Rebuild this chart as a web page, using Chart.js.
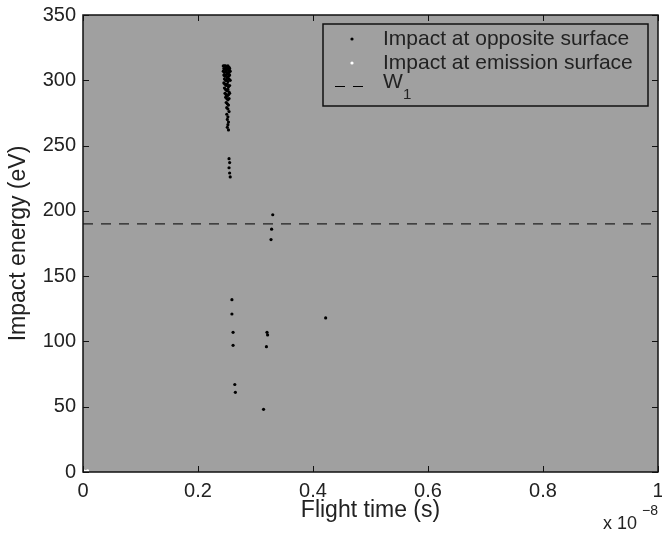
<!DOCTYPE html>
<html>
<head>
<meta charset="utf-8">
<script src="https://cdn.jsdelivr.net/npm/chart.js@4.4.1/dist/chart.umd.min.js"></script>
<style>
  html, body { margin: 0; padding: 0; background: #fff; }
</style>
</head>
<body>
<canvas id="impactChart" width="662" height="533"></canvas>
<script>
// flight time in units of 1e-8 s, energy in eV
var oppositeTime = [
  0.244, 0.246, 0.248, 0.250, 0.252, 0.254,
  0.245, 0.247, 0.249, 0.251, 0.253, 0.255,
  0.244, 0.246, 0.248, 0.250, 0.252, 0.254, 0.256,
  0.245, 0.247, 0.249, 0.251, 0.253, 0.255,
  0.246, 0.248, 0.250, 0.252, 0.254, 0.256,
  0.245, 0.247, 0.249, 0.251, 0.253, 0.255,
  0.246, 0.248, 0.250, 0.252, 0.254,
  0.247, 0.249, 0.251, 0.253, 0.255,
  0.248, 0.250, 0.252, 0.254,
  0.249, 0.251, 0.253,
  0.250, 0.252, 0.254,
  0.250, 0.252,
  0.251, 0.253,
  0.252, 0.251, 0.253,
  0.254, 0.255, 0.254, 0.255, 0.256,
  0.259, 0.259, 0.261, 0.261, 0.264, 0.265,
  0.314, 0.320, 0.321, 0.319,
  0.330, 0.328, 0.327,
  0.422
];
var oppositeEnergy = [
  311, 311, 311, 310, 311, 310,
  309, 309, 308, 309, 308, 309,
  307, 306, 307, 306, 305, 306, 307,
  304, 303, 304, 302, 303, 304,
  301, 300, 300, 299, 301, 300,
  298, 297, 296, 297, 295, 296,
  294, 293, 292, 293, 291,
  290, 289, 288, 289, 290,
  287, 286, 285, 286,
  283, 282, 281,
  279, 278, 276,
  274, 272,
  270, 268,
  266, 264, 262,
  240, 237, 233, 229, 226,
  132, 121, 107, 97, 67, 61,
  48, 107, 105, 96,
  197, 186, 178,
  118
];
var emissionTime = [0.002, 0.005, 0.008];
var emissionEnergy = [0.6, 0.4, 0.8];
var w1Level = 190;
var xTicks = [0, 0.2, 0.4, 0.6, 0.8, 1];
var yTicks = [0, 50, 100, 150, 200, 250, 300, 350];

function toPoints(xs, ys) {
  return xs.map(function (x, i) { return { x: x, y: ys[i] }; });
}

var fontFamily = '"Liberation Sans", Arial, sans-serif';

var framePlugin = {
  id: 'frame',
  beforeDraw: function (chart) {
    var ctx = chart.ctx, a = chart.chartArea;
    ctx.save();
    ctx.fillStyle = '#fff';
    ctx.fillRect(0, 0, chart.width, chart.height);
    ctx.fillStyle = '#a0a0a0';
    ctx.fillRect(a.left, a.top, a.right - a.left, a.bottom - a.top);
    ctx.restore();
  },
  afterDraw: function (chart) {
    var ctx = chart.ctx, a = chart.chartArea;
    var xs = chart.scales.x, ys = chart.scales.y;
    ctx.save();
    ctx.strokeStyle = '#111';
    ctx.lineWidth = 1.5;
    ctx.strokeRect(a.left, a.top, a.right - a.left, a.bottom - a.top);
    ctx.lineWidth = 1;
    ctx.beginPath();
    xTicks.forEach(function (v) {
      var px = Math.round(xs.getPixelForValue(v)) + 0.5;
      ctx.moveTo(px, a.bottom); ctx.lineTo(px, a.bottom - 6);
      ctx.moveTo(px, a.top); ctx.lineTo(px, a.top + 6);
    });
    yTicks.forEach(function (v) {
      var py = Math.round(ys.getPixelForValue(v)) + 0.5;
      ctx.moveTo(a.left, py); ctx.lineTo(a.left + 6, py);
      ctx.moveTo(a.right, py); ctx.lineTo(a.right - 6, py);
    });
    ctx.stroke();

    // exponent label
    ctx.fillStyle = '#222';
    ctx.textBaseline = 'alphabetic';
    ctx.font = '18px ' + fontFamily;
    ctx.fillText('x 10', 603, 529);
    ctx.font = '14px ' + fontFamily;
    ctx.fillText('\u22128', 642, 515);

    // legend
    var lx = 323, ly = 24, lw = 325, lh = 82;
    ctx.strokeStyle = '#111';
    ctx.lineWidth = 1.5;
    ctx.strokeRect(lx, ly, lw, lh);
    var ds = chart.data.datasets;
    var rows = [39, 63, 86];
    ctx.font = '21px ' + fontFamily;
    ctx.textBaseline = 'middle';
    ctx.fillStyle = '#222';
    ctx.fillText(ds[0].label, 383, rows[0]);
    ctx.fillText(ds[1].label, 383, rows[1]);
    ctx.fillText('W', 383, rows[2] - 4);
    ctx.font = '15px ' + fontFamily;
    ctx.fillText('1', 403, rows[2] + 9);
    ctx.beginPath();
    ctx.fillStyle = '#000';
    ctx.arc(352, rows[0], 1.6, 0, Math.PI * 2);
    ctx.fill();
    ctx.beginPath();
    ctx.fillStyle = '#fff';
    ctx.arc(352, rows[1], 1.6, 0, Math.PI * 2);
    ctx.fill();
    ctx.beginPath();
    ctx.strokeStyle = '#000';
    ctx.lineWidth = 1;
    ctx.setLineDash([10, 8]);
    ctx.moveTo(335, rows[2] + 0.5);
    ctx.lineTo(369, rows[2] + 0.5);
    ctx.stroke();
    ctx.restore();
  }
};

var tickFont = { family: fontFamily, size: 20 };
var titleFont = { family: fontFamily, size: 23 };

new Chart(document.getElementById('impactChart').getContext('2d'), {
  type: 'scatter',
  data: {
    datasets: [{
      label: 'Impact at opposite surface',
      data: toPoints(oppositeTime, oppositeEnergy),
      backgroundColor: '#000',
      borderWidth: 0,
      pointRadius: 1.6
    }, {
      label: 'Impact at emission surface',
      data: toPoints(emissionTime, emissionEnergy),
      backgroundColor: '#fff',
      borderWidth: 0,
      pointRadius: 1.6
    }, {
      type: 'line',
      label: 'W1',
      data: [{ x: xTicks[0], y: w1Level }, { x: xTicks[xTicks.length - 1], y: w1Level }],
      borderColor: '#000',
      borderWidth: 1,
      borderDash: [10, 8],
      pointRadius: 0,
      fill: false
    }]
  },
  options: {
    responsive: false,
    animation: false,
    devicePixelRatio: 1,
    layout: { padding: { top: 15, right: 3, left: 0, bottom: 0 } },
    plugins: { legend: { display: false }, tooltip: { enabled: false } },
    scales: {
      x: {
        type: 'linear',
        min: 0, max: 1,
        afterBuildTicks: function (s) { s.ticks = xTicks.map(function (v) { return { value: v }; }); },
        afterFit: function (s) { s.height = 61; s.paddingLeft = 0; s.paddingRight = 0; },
        grid: { display: false, drawTicks: false },
        border: { display: false },
        ticks: { color: '#222', font: tickFont, padding: 7, maxRotation: 0, autoSkip: false,
          callback: function (v) { return String(v); } },
        title: { display: true, text: 'Flight time (s)', color: '#222', font: titleFont, padding: { bottom: 9 } }
      },
      y: {
        min: 0, max: 350,
        afterBuildTicks: function (s) { s.ticks = yTicks.map(function (v) { return { value: v }; }); },
        afterFit: function (s) { s.width = 83; s.paddingTop = 0; s.paddingBottom = 0; },
        grid: { display: false, drawTicks: false },
        border: { display: false },
        ticks: { color: '#222', font: tickFont, padding: 7, autoSkip: false,
          callback: function (v) { return String(v); } },
        title: { display: true, text: 'Impact energy (eV)', color: '#222', font: titleFont, padding: { top: 5 } }
      }
    }
  },
  plugins: [framePlugin]
});
</script>
</body>
</html>
